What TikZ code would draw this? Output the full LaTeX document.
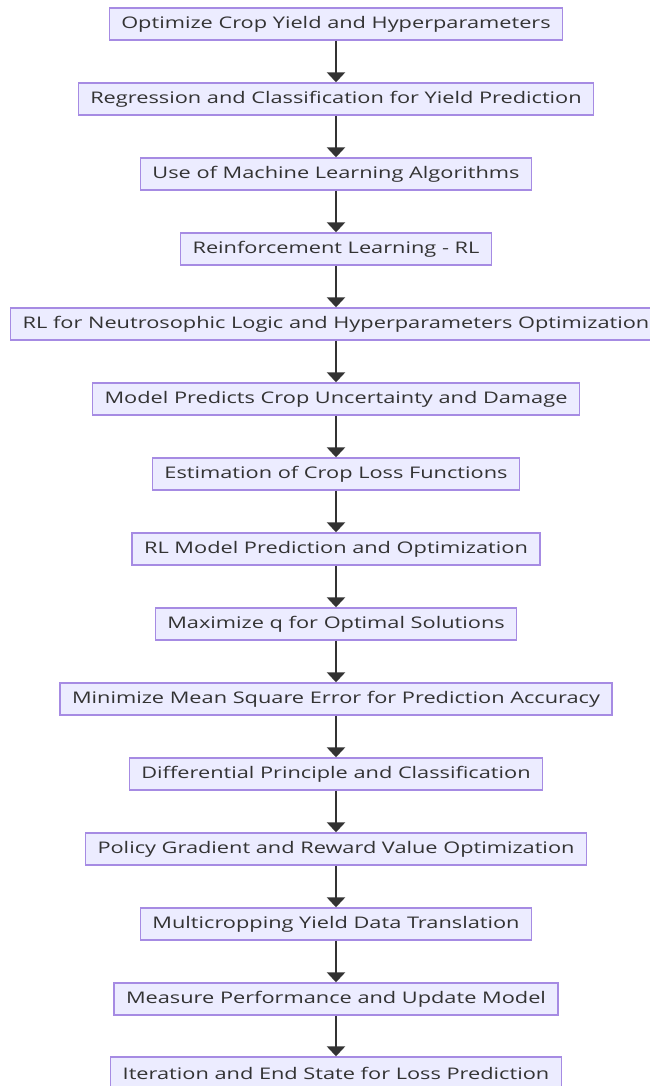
\documentclass[tikz,border=0pt]{standalone}
\usepackage{fontspec}
\setmainfont[FakeStretch=1.36]{Open Sans}
\usetikzlibrary{arrows.meta}
\definecolor{boxfill}{HTML}{ECECFF}
\definecolor{boxline}{HTML}{A68BE3}
\definecolor{arrowcol}{HTML}{333333}
\begin{document}
\begin{tikzpicture}[x=1pt,y=-1pt,
  stepbox/.style={draw=boxline, fill=boxfill, line width=1.4pt, minimum height=32pt,
    inner xsep=12pt, inner ysep=0pt, font=\fontsize{16}{18}\selectfont, text=arrowcol},
  flow/.style={draw=arrowcol, line width=2.6pt, -{Triangle[length=10pt,width=18pt]}}]
\useasboundingbox (0,0) rectangle (649,1086);
\fill[white] (0,0) rectangle (649,1086);
\node[stepbox] (n1)  at (336,24)   {Optimize Crop Yield and Hyperparameters};
\node[stepbox] (n2)  at (336,99)   {Regression and Classification for Yield Prediction};
\node[stepbox] (n3)  at (336,174)  {Use of Machine Learning Algorithms};
\node[stepbox] (n4)  at (336,249)  {Reinforcement Learning - RL};
\node[stepbox] (n5)  at (336,324)  {RL for Neutrosophic Logic and Hyperparameters Optimization};
\node[stepbox] (n6)  at (336,399)  {Model Predicts Crop Uncertainty and Damage};
\node[stepbox] (n7)  at (336,474)  {Estimation of Crop Loss Functions};
\node[stepbox] (n8)  at (336,549)  {RL Model Prediction and Optimization};
\node[stepbox] (n9)  at (336,624)  {Maximize q for Optimal Solutions};
\node[stepbox] (n10) at (336,699)  {Minimize Mean Square Error for Prediction Accuracy};
\node[stepbox] (n11) at (336,774)  {Differential Principle and Classification};
\node[stepbox] (n12) at (336,849)  {Policy Gradient and Reward Value Optimization};
\node[stepbox] (n13) at (336,924)  {Multicropping Yield Data Translation};
\node[stepbox] (n14) at (336,999)  {Measure Performance and Update Model};
\node[stepbox] (n15) at (336,1073) {Iteration and End State for Loss Prediction};
\foreach \a/\b in {n1/n2,n2/n3,n3/n4,n4/n5,n5/n6,n6/n7,n7/n8,n8/n9,n9/n10,n10/n11,n11/n12,n12/n13,n13/n14,n14/n15}
  \draw[flow] (\a) -- (\b);
\end{tikzpicture}
\end{document}
